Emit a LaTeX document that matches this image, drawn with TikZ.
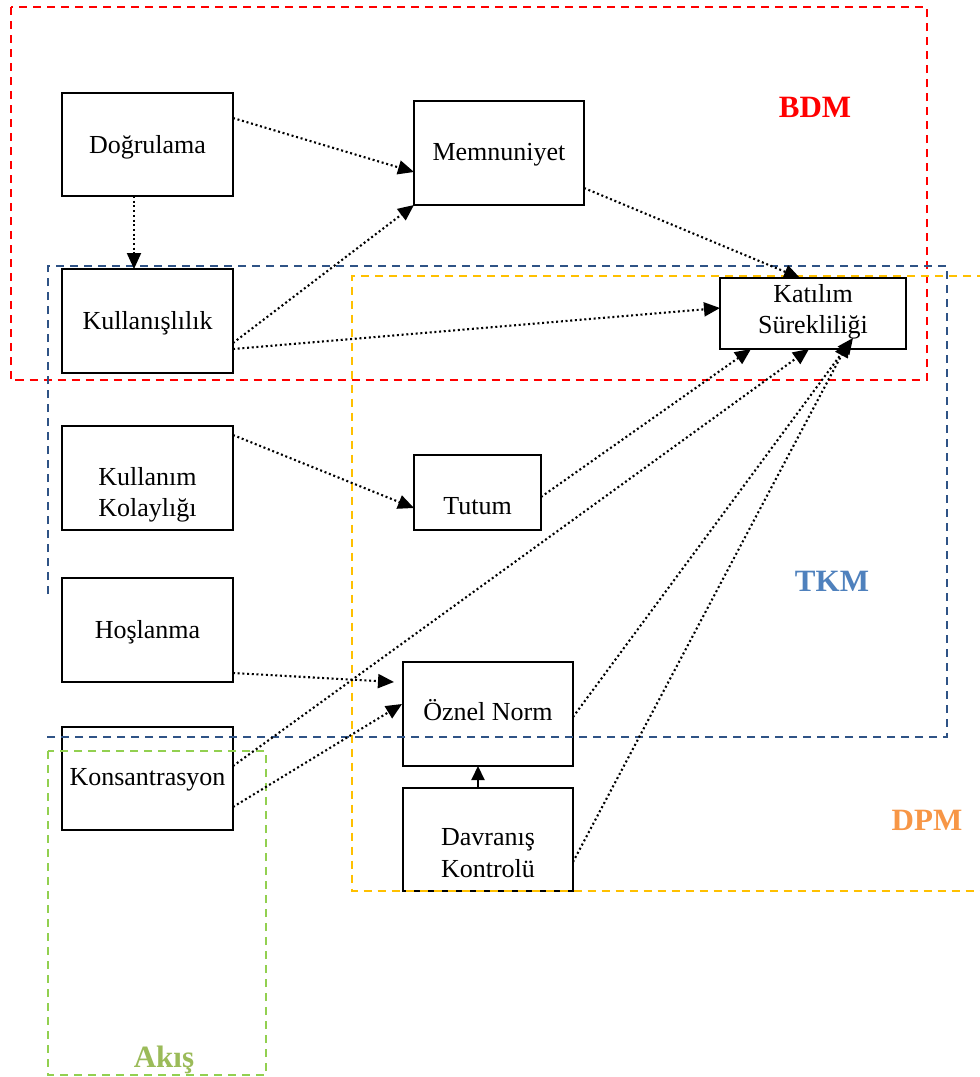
\documentclass[tikz,border=0pt]{standalone}
\usepackage{fontspec}
\setmainfont{Liberation Serif}
\usetikzlibrary{arrows.meta}
\definecolor{bdmred}{HTML}{FF0000}
\definecolor{tkmline}{HTML}{2F5386}
\definecolor{tkmtext}{HTML}{4F81BD}
\definecolor{dpmline}{HTML}{FFC000}
\definecolor{dpmtext}{HTML}{F79646}
\definecolor{akisline}{HTML}{92D050}
\definecolor{akistext}{HTML}{9BBB59}
\begin{document}
\begin{tikzpicture}[x=1pt,y=-1pt,
  box/.style={draw, line width=2.2pt, inner sep=0pt, outer sep=0pt},
  txt/.style={font=\fontsize{26}{31}\selectfont, inner sep=0pt, anchor=base},
  grp/.style={line width=2pt, dash pattern=on 8pt off 6pt},
  conn/.style={line width=2.1pt, dash pattern=on 2pt off 2.7pt, -{Triangle[length=16pt,width=14pt]}},
  solidconn/.style={line width=2.2pt, -{Triangle[length=14pt,width=13pt]}},
  lbl/.style={font=\fontsize{31}{36}\selectfont\bfseries, inner sep=0pt, anchor=base}
]
\useasboundingbox (0,0) rectangle (980,1077);
\fill[white] (0,0) rectangle (980,1077);

% boxes
\node[box, minimum width=171pt, minimum height=103pt] (dog) at (147.5,144.5) {};
\node[box, minimum width=170pt, minimum height=104pt] (mem) at (499,153) {};
\node[box, minimum width=171pt, minimum height=104pt] (kul) at (147.5,321) {};
\node[box, minimum width=186pt, minimum height=71pt] (kat) at (813,313.5) {};
\node[box, minimum width=171pt, minimum height=104pt] (kk) at (147.5,478) {};
\node[box, minimum width=127pt, minimum height=75pt] (tut) at (477.5,492.5) {};
\node[box, minimum width=171pt, minimum height=104pt] (hos) at (147.5,630) {};
\node[box, minimum width=170pt, minimum height=104pt] (oz) at (488,714) {};
\node[box, minimum width=171pt, minimum height=103pt] (kon) at (147.5,778.5) {};
\node[box, minimum width=170pt, minimum height=103pt] (dav) at (488,839.5) {};

% texts
\node[txt] (tdog) at (147.5,153) {Doğrulama};
\node[txt] (tmem) at (499,160) {Memnuniyet};
\node[txt] (tkul) at (147.5,329) {Kullanışlılık};
\node[txt] (tkat1) at (813,302.5) {Katılım};
\node[txt] (tkat2) at (813,333) {Sürekliliği};
\node[txt] (tkk1) at (147.5,485) {Kullanım};
\node[txt] (tkk2) at (147.5,516) {Kolaylığı};
\node[txt] (ttut) at (477.5,514) {Tutum};
\node[txt] (thos) at (147.5,638) {Hoşlanma};
\node[txt] (toz) at (488,720) {Öznel Norm};
\node[txt] (tkon) at (147.5,785) {Konsantrasyon};
\node[txt] (tdav1) at (488,845) {Davranış};
\node[txt] (tdav2) at (488,877) {Kontrolü};

% group frames
\draw[grp, bdmred] (10.5,7) rectangle (926.5,380);
\draw[grp, tkmline] (48,594) -- (48,266) -- (947,266) -- (947,737) -- (46,737);
\draw[grp, dpmline] (985,275.5) -- (352,275.5) -- (352,891) -- (985,891);
\draw[grp, akisline] (48,751) rectangle (266,1075);

% connectors
\draw[conn] ([yshift=-25pt]dog.north east) -- ([yshift=-71pt]mem.north west);
\draw[conn] ([xshift=-13.5pt]dog.south) -- ([xshift=-13.5pt]kul.north);
\draw[conn] ([yshift=-74pt]kul.north east) -- (mem.south west);
\draw[conn] ([yshift=-80pt]kul.north east) -- ([yshift=-30pt]kat.north west);
\draw[conn] ([yshift=-87pt]mem.north east) -- ([xshift=-13pt]kat.north);
\draw[conn] ([yshift=-9pt]kk.north east) -- ([yshift=-53pt]tut.north west);
\draw[conn] ([yshift=-42pt]tut.north east) -- ([xshift=31pt]kat.south west);
\draw[conn] ([yshift=-39pt]kon.north east) -- ([xshift=89pt]kat.south west);
\draw[conn] ([yshift=-55pt]oz.north east) -- ([xshift=133pt,yshift=11pt]kat.south west);
\draw[conn] ([yshift=-74pt]dav.north east) -- ([xshift=129pt,yshift=8pt]kat.south west);
\draw[conn] ([yshift=-95pt]hos.north east) -- ([xshift=-9pt,yshift=-20pt]oz.north west);
\draw[conn] ([yshift=-80pt]kon.north east) -- ([xshift=-1pt,yshift=-42pt]oz.north west);
\draw[solidconn] ([xshift=-10pt]dav.north) -- ([xshift=-10pt]oz.south);

% labels
\node[lbl, text=bdmred] (bdm) at (815,117) {BDM};
\node[lbl, text=tkmtext] (tkm) at (832,591) {TKM};
\node[lbl, text=dpmtext] (dpm) at (927,830) {DPM};
\node[lbl, text=akistext] (akis) at (164,1067) {Akış};
\end{tikzpicture}
\end{document}
